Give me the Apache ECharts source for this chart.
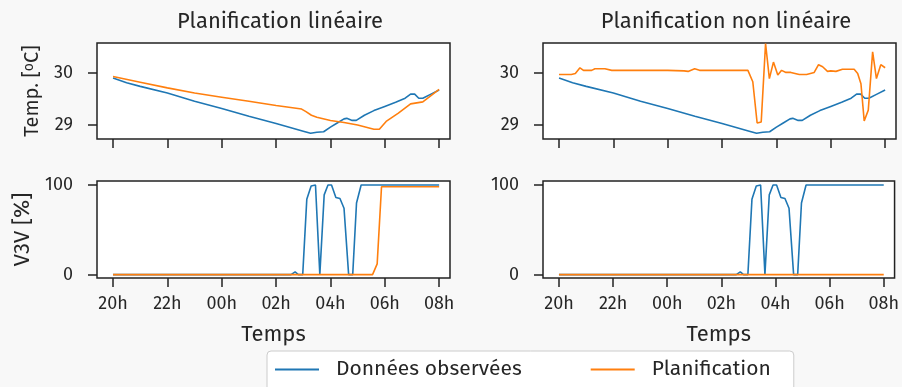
<!DOCTYPE html>
<html>
<head>
<meta charset="utf-8">
<script src="https://cdn.jsdelivr.net/npm/echarts@6/dist/echarts.min.js"></script>
<style>
html,body{margin:0;padding:0;background:#f8f8f8;}
#c{width:902px;height:387px;}
</style>
</head>
<body>
<div id="c"></div>
<script>
// hours since 20:00
const tickHours = [0, 2, 4, 6, 8, 10, 12];
const tickLabels = ['20h', '22h', '00h', '02h', '04h', '06h', '08h'];
const tempTicks = [29, 30];
const v3vTicks = [0, 100];

// Observed temperature (same in both panels)
const obsTempH = [0,0.5,1,2,3,4,5,6,7,7.27,7.5,7.75,8.0,8.25,8.5,8.6,8.8,8.95,9.25,9.6,10,10.4,10.75,10.95,11.1,11.25,11.4,11.7,12];
const obsTempV = [29.90,29.81,29.74,29.61,29.45,29.31,29.16,29.02,28.87,28.83,28.85,28.86,28.95,29.03,29.11,29.12,29.08,29.08,29.18,29.27,29.35,29.43,29.51,29.59,29.59,29.51,29.51,29.59,29.67];

// Linear planning temperature
const linTempH = [0,1,2,3,4,5,6,6.94,7.1,7.3,7.5,8,8.5,9,9.6,9.8,10.05,10.5,10.95,11.4,12];
const linTempV = [29.93,29.82,29.71,29.61,29.53,29.45,29.37,29.30,29.25,29.18,29.14,29.08,29.04,28.99,28.91,28.91,29.06,29.22,29.40,29.44,29.68];

// Non-linear planning temperature
const nlTempH = [0,0.45,0.6,0.77,0.9,1.2,1.32,1.69,1.94,2.5,3.0,3.5,4.0,4.6,4.75,4.99,5.17,5.6,6.0,6.5,6.95,7.13,7.29,7.44,7.6,7.74,7.89,8.05,8.19,8.35,8.53,8.84,9.11,9.39,9.55,9.70,9.88,10.0,10.19,10.43,10.86,10.99,11.11,11.23,11.38,11.54,11.68,11.84,12.0];
const nlTempV = [29.97,29.97,29.99,30.10,30.05,30.05,30.08,30.08,30.05,30.05,30.05,30.05,30.05,30.04,30.03,30.08,30.05,30.05,30.05,30.05,30.05,29.83,29.03,29.05,30.57,29.89,30.21,29.96,30.05,30.01,30.01,29.97,29.97,30.01,30.16,30.12,30.03,30.04,30.03,30.07,30.07,29.99,29.79,29.07,29.28,30.41,29.89,30.16,30.10];

// Observed V3V (same in both panels)
const obsV3vH = [0,6.55,6.7,6.82,6.98,7.13,7.29,7.45,7.61,7.77,7.91,8.04,8.2,8.35,8.5,8.67,8.82,8.96,9.13,12];
const obsV3vV = [0,0,3,0,0,84,99,100,0,89,100,100,86,85,74,0,0,80,100,100];

// Linear planning V3V
const linV3vH = [0,9.55,9.72,9.88,12];
const linV3vV = [0,0,12,98,98];

// Non-linear planning V3V
const nlV3vH = [0,12];
const nlV3vV = [0,0];

const BLUE = '#1f77b4', ORANGE = '#ff7f0e';
const FONT = "'Fira Sans','Open Sans','Noto Sans',sans-serif";
const TXT = '#262626';

function pairs(h, v) { return h.map((x, i) => [x, v[i]]); }

const grids = [
  {left: 97, top: 43, width: 353, height: 96},
  {left: 543, top: 43, width: 353, height: 96},
  {left: 97, top: 181, width: 353, height: 97},
  {left: 543, top: 181, width: 353, height: 97}
].map(g => Object.assign(g, {show: true, backgroundColor: '#ffffff', borderColor: '#222', borderWidth: 1.5}));

function xAxis(i, showLabels) {
  return {
    type: 'value', gridIndex: i, min: -0.59, max: 12.4, position: 'bottom',
    axisLine: {show: false, onZero: false},
    splitLine: {show: false},
    axisTick: {show: true, inside: false, length: 9, lineStyle: {color: '#222', width: 1.5}, customValues: tickHours},
    axisLabel: {show: showLabels, customValues: tickHours, margin: 17, fontSize: 18, fontFamily: FONT, color: TXT,
      formatter: v => { const k = tickHours.indexOf(Math.round(v)); return k >= 0 ? tickLabels[k] : ''; }},
    name: showLabels ? 'Temps' : '', nameLocation: 'middle', nameGap: 46,
    nameTextStyle: {fontSize: 22, fontFamily: FONT, color: TXT}
  };
}
function yAxis(i, min, max, ticks, name) {
  const isV3v = name.startsWith('V3V');
  return {
    type: 'value', gridIndex: i, min: min, max: max, position: 'left',
    axisLine: {show: false, onZero: false},
    splitLine: {show: false},
    axisTick: {show: true, inside: false, length: 9, lineStyle: {color: '#222', width: 1.5}, customValues: ticks},
    axisLabel: {customValues: ticks, margin: 24, fontSize: 18, fontFamily: FONT, color: TXT},
    name: name, nameLocation: 'middle', nameGap: isV3v ? 63 : 55,
    nameTextStyle: {fontSize: isV3v ? 22 : 20, fontFamily: FONT, color: TXT,
      rich: {o: {fontSize: 14, verticalAlign: 'top', fontFamily: FONT, color: TXT}}}
  };
}

function line(name, color, i, h, v) {
  return {
    name: name, type: 'line', xAxisIndex: i, yAxisIndex: i,
    data: pairs(h, v), symbol: 'none', showSymbol: false, animation: false,
    lineStyle: {color: color, width: 1.6}, itemStyle: {color: color}
  };
}

const OBS = 'Données observées', PLAN = 'Planification';

const option = {
  backgroundColor: '#f8f8f8',
  animation: false,
  title: [
    {text: 'Planification linéaire', left: 275, top: 6, textAlign: 'center',
     textStyle: {fontSize: 22, fontWeight: 'normal', fontFamily: FONT, color: TXT}},
    {text: 'Planification non linéaire', left: 721, top: 6, textAlign: 'center',
     textStyle: {fontSize: 22, fontWeight: 'normal', fontFamily: FONT, color: TXT}}
  ],
  legend: {
    data: [OBS, PLAN], left: 267, top: 351, orient: 'horizontal',
    icon: 'rect', padding: [8, 23, 14, 8], itemWidth: 44, itemHeight: 2, itemGap: 69,
    backgroundColor: '#ffffff', borderColor: '#cccccc', borderWidth: 1, borderRadius: 4,
    textStyle: {fontSize: 21, fontFamily: FONT, color: TXT, padding: [0, 0, 0, 12]}
  },
  grid: grids,
  xAxis: [xAxis(0, false), xAxis(1, false), xAxis(2, true), xAxis(3, true)],
  yAxis: [
    yAxis(0, 28.72, 30.58, tempTicks, 'Temp. [{o|o}C]'),
    yAxis(1, 28.72, 30.58, tempTicks, ''),
    yAxis(2, -3.8, 104.5, v3vTicks, 'V3V [%]'),
    yAxis(3, -3.8, 104.5, v3vTicks, '')
  ],
  series: [
    line(OBS, BLUE, 0, obsTempH, obsTempV),
    line(PLAN, ORANGE, 0, linTempH, linTempV),
    line(OBS, BLUE, 1, obsTempH, obsTempV),
    line(PLAN, ORANGE, 1, nlTempH, nlTempV),
    line(OBS, BLUE, 2, obsV3vH, obsV3vV),
    line(PLAN, ORANGE, 2, linV3vH, linV3vV),
    line(OBS, BLUE, 3, obsV3vH, obsV3vV),
    line(PLAN, ORANGE, 3, nlV3vH, nlV3vV)
  ]
};

const chart = echarts.init(document.getElementById('c'), null, {renderer: 'canvas'});
chart.setOption(option);
</script>
</body>
</html>
